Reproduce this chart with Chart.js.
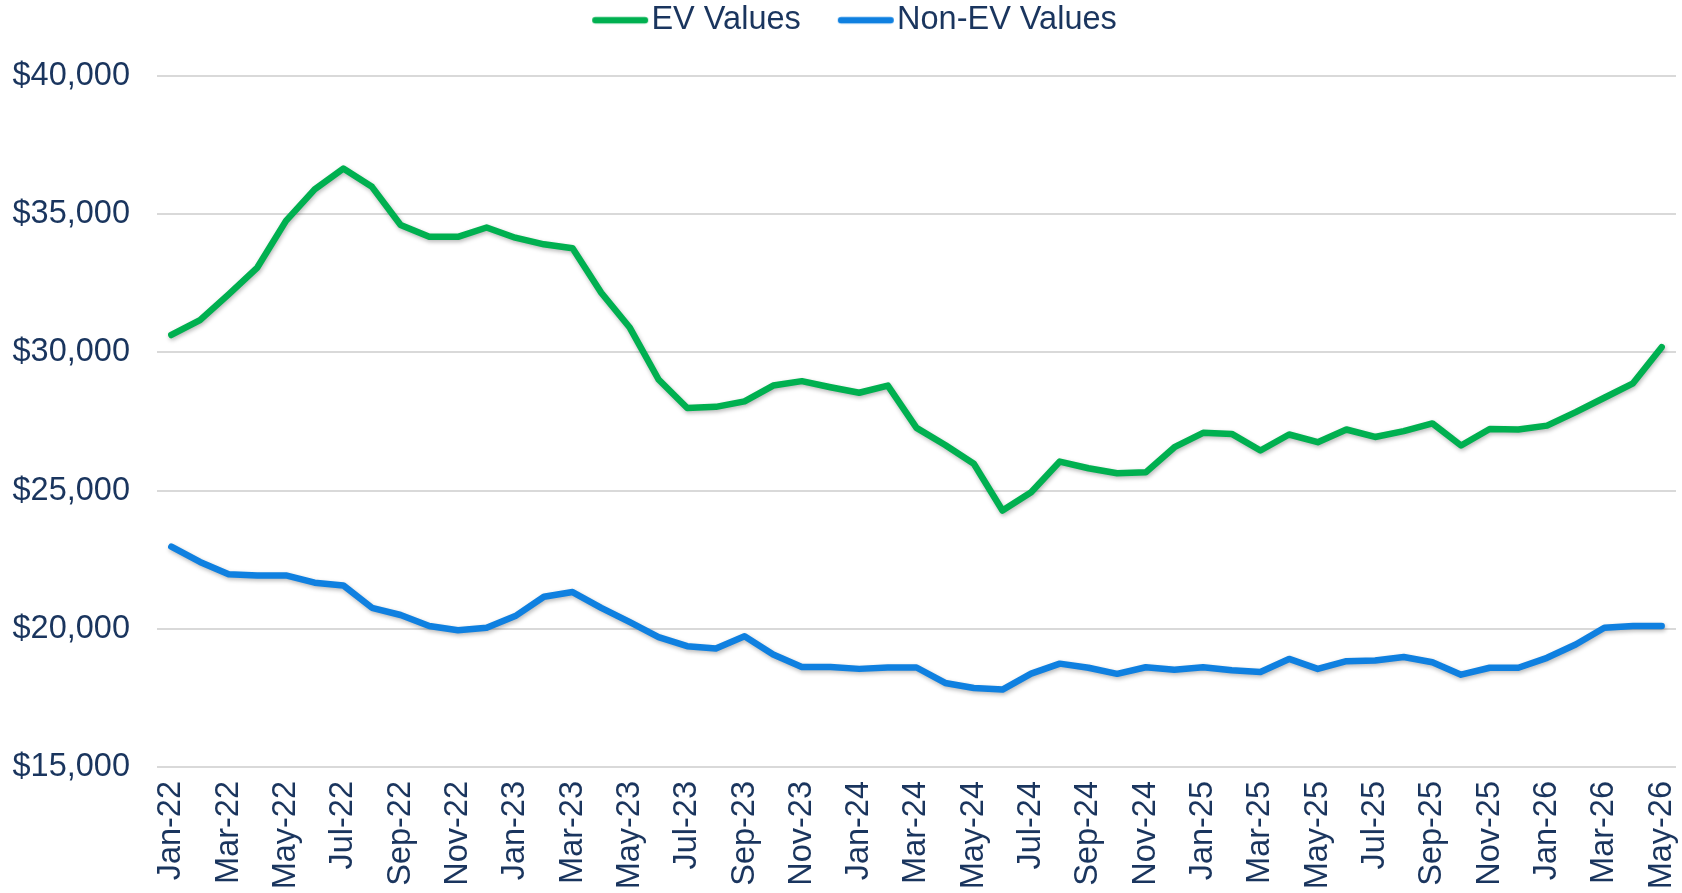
<!DOCTYPE html>
<html>
<head>
<meta charset="utf-8">
<script src="https://cdn.jsdelivr.net/npm/chart.js@4.4.1/dist/chart.umd.min.js"></script>
<style>
  html, body { margin: 0; padding: 0; background: #ffffff; }
  #wrap { width: 1682px; height: 893px; position: relative; }
</style>
</head>
<body>
<div id="wrap"><canvas id="c" width="1682" height="893"></canvas></div>
<script>
const months = ["Jan-22","Feb-22","Mar-22","Apr-22","May-22","Jun-22","Jul-22","Aug-22","Sep-22","Oct-22","Nov-22","Dec-22",
  "Jan-23","Feb-23","Mar-23","Apr-23","May-23","Jun-23","Jul-23","Aug-23","Sep-23","Oct-23","Nov-23","Dec-23",
  "Jan-24","Feb-24","Mar-24","Apr-24","May-24","Jun-24","Jul-24","Aug-24","Sep-24","Oct-24","Nov-24","Dec-24",
  "Jan-25","Feb-25","Mar-25","Apr-25","May-25","Jun-25","Jul-25","Aug-25","Sep-25","Oct-25","Nov-25","Dec-25",
  "Jan-26","Feb-26","Mar-26","Apr-26","May-26"];

const evValues = [30630,31170,32100,33070,34760,35900,36650,35990,34610,34180,34180,34520,
  34150,33910,33770,32160,30890,29020,27990,28030,28230,28800,28960,28740,
  28540,28800,27270,26650,25970,24280,24940,26050,25810,25630,25660,26570,
  27090,27050,26450,27030,26750,27210,26940,27150,27430,26630,27230,27210,
  27350,27840,28360,28880,30190];

const nonEvValues = [22970,22420,21970,21930,21930,21670,21570,20760,20500,20100,19950,20040,
  20460,21160,21330,20760,20240,19700,19370,19290,19730,19070,18620,18620,
  18550,18600,18600,18040,17860,17800,18380,18740,18590,18370,18610,18520,
  18610,18500,18440,18910,18550,18830,18850,18980,18790,18340,18590,18590,
  18950,19430,20040,20100,20100];

const seriesNames = ["EV Values", "Non-EV Values"];
const yTicks = [15000, 20000, 25000, 30000, 35000, 40000];

const GREEN = "#00B050";
const BLUE = "#0F80E0";
const TEXT = "#1A355E";
const FONT = "'Liberation Sans', Arial, sans-serif";
const FONT_SIZE = 32.5;

// legend icon: wider than its box so the visible line sits close to the text
function makeLegendIcon(color) {
  const cv = document.createElement("canvas");
  cv.width = 104; cv.height = 10;
  const g = cv.getContext("2d");
  g.strokeStyle = color;
  g.lineWidth = 6.5;
  g.lineCap = "round";
  g.beginPath();
  g.moveTo(50.25, 5);
  g.lineTo(99.75, 5);
  g.stroke();
  return cv;
}
const legendIcons = [makeLegendIcon(GREEN), makeLegendIcon(BLUE)];

const shadowPlugin = {
  id: "lineShadow",
  beforeDatasetDraw(chart) {
    const ctx = chart.ctx;
    ctx.save();
    ctx.shadowColor = "rgba(0,0,0,0.28)";
    ctx.shadowBlur = 4;
    ctx.shadowOffsetX = 1;
    ctx.shadowOffsetY = 2;
  },
  afterDatasetDraw(chart) {
    chart.ctx.restore();
  }
};

const legendSpacing = {
  id: "legendSpacing",
  beforeInit(chart) {
    const orig = chart.legend.fit;
    chart.legend.fit = function () {
      orig.call(this);
      this.height += 29.5;
    };
  },
  afterLayout(chart) {
    chart.legend.left -= 6;
    chart.legend.right -= 6;
  }
};

new Chart(document.getElementById("c"), {
  type: "line",
  data: {
    labels: months,
    datasets: [
      { label: seriesNames[0], data: evValues, borderColor: GREEN, backgroundColor: GREEN,
        borderWidth: 6.5, pointRadius: 0, tension: 0, borderCapStyle: "round", borderJoinStyle: "round" },
      { label: seriesNames[1], data: nonEvValues, borderColor: BLUE, backgroundColor: BLUE,
        borderWidth: 6.5, pointRadius: 0, tension: 0, borderCapStyle: "round", borderJoinStyle: "round" }
    ]
  },
  options: {
    responsive: false,
    animation: false,
    devicePixelRatio: 1,
    layout: { padding: { left: 12, right: 6, top: 0, bottom: 0 } },
    plugins: {
      tooltip: { enabled: false },
      legend: {
        position: "top",
        labels: {
          usePointStyle: true,
          pointStyleWidth: 76,
          boxHeight: 10,
          padding: 4,
          color: TEXT,
          font: { family: FONT, size: FONT_SIZE },
          generateLabels(chart) {
            const items = Chart.defaults.plugins.legend.labels.generateLabels(chart);
            items.forEach((it, i) => { it.pointStyle = legendIcons[i]; });
            return items;
          }
        }
      }
    },
    scales: {
      x: {
        offset: true,
        grid: { display: false, drawTicks: false },
        border: { display: false },
        afterFit(scale) {
          scale.paddingRight = 0;
          scale.paddingLeft = 0;
          scale.height = 126;
        },
        ticks: {
          autoSkip: false,
          maxRotation: 90,
          minRotation: 90,
          padding: 14,
          color: TEXT,
          font: { family: FONT, size: FONT_SIZE },
          callback(value, index) { return index % 2 === 0 ? months[index] : ""; }
        }
      },
      y: {
        min: yTicks[0],
        max: yTicks[yTicks.length - 1],
        afterBuildTicks(scale) { scale.ticks = yTicks.map(v => ({ value: v })); },
        afterFit(scale) { scale.width = 145; },
        grid: { color: "#D9D9D9", lineWidth: 2, drawTicks: false },
        border: { display: false },
        ticks: {
          padding: 27,
          color: TEXT,
          font: { family: FONT, size: FONT_SIZE },
          callback(v) { return "$" + Number(v).toLocaleString("en-US"); }
        }
      }
    }
  },
  plugins: [shadowPlugin, legendSpacing]
});
</script>
</body>
</html>
